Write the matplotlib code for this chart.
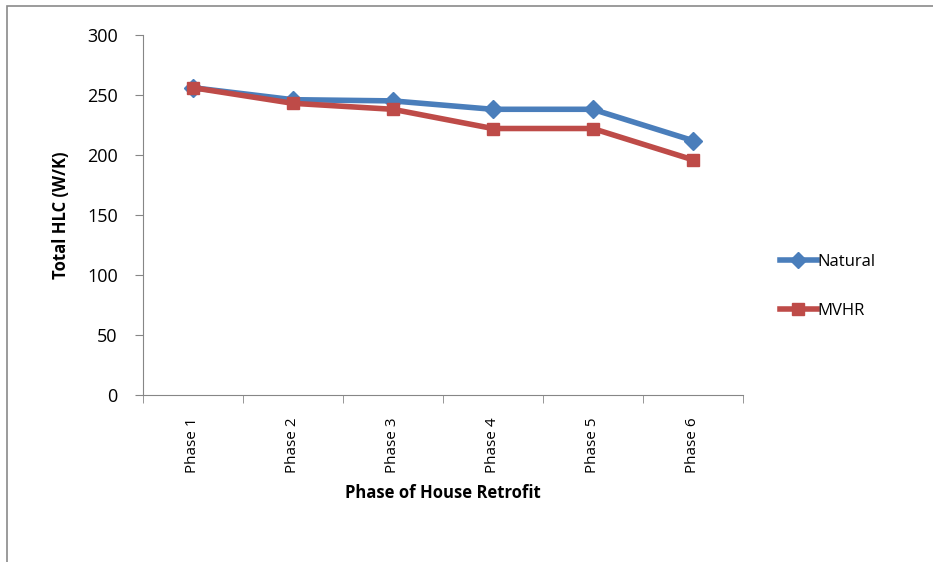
import matplotlib.pyplot as plt
from matplotlib.patches import Rectangle

phases = ["Phase 1", "Phase 2", "Phase 3", "Phase 4", "Phase 5", "Phase 6"]
natural = [256, 246, 245, 238, 238, 212]
mvhr = [256, 243, 238, 222, 222, 196]

plt.rcParams['font.family'] = ['Open Sans', 'DejaVu Sans']

fig = plt.figure(figsize=(9.33, 5.62), dpi=100)
ax = fig.add_axes([0.153, 0.297, 0.643, 0.641])

x = list(range(len(phases)))
ax.plot(x, natural, color='#4a7ebb', lw=4, marker='D', ms=9, label='Natural')
ax.plot(x, mvhr, color='#be4b48', lw=4, marker='s', ms=9, label='MVHR')

ax.set_xlim(-0.5, len(phases) - 0.5)
ax.set_ylim(0, 300)
ax.set_yticks(range(0, 301, 50))
ax.set_xticks(x)
ax.set_xticklabels(phases, rotation=90, fontsize=11)
ax.set_xticks([i - 0.5 for i in range(len(phases) + 1)], minor=True)
ax.tick_params(axis='x', which='major', length=0, pad=16)
ax.tick_params(axis='x', which='minor', length=6, color='#868686')
ax.tick_params(axis='y', length=6, color='#868686', labelsize=13, pad=12)

for s in ['top', 'right']:
    ax.spines[s].set_visible(False)
for s in ['left', 'bottom']:
    ax.spines[s].set_color('#868686')

ax.set_ylabel('Total HLC (W/K)', fontsize=12, fontweight='bold', labelpad=12)
ax.set_xlabel('Phase of House Retrofit', fontsize=12, fontweight='bold', labelpad=8)

fig.legend(loc='center left', bbox_to_anchor=(0.82, 0.49), frameon=False,
           fontsize=12, handlelength=2.2, labelspacing=2.0, handletextpad=0.05,
           markerscale=0.9)

fig.patches.append(Rectangle((0.008, -0.01), 1.1, 1.0, transform=fig.transFigure,
                             fill=False, edgecolor='#8a8a8a', lw=1.2))

fig.savefig('out.png', dpi=100)
